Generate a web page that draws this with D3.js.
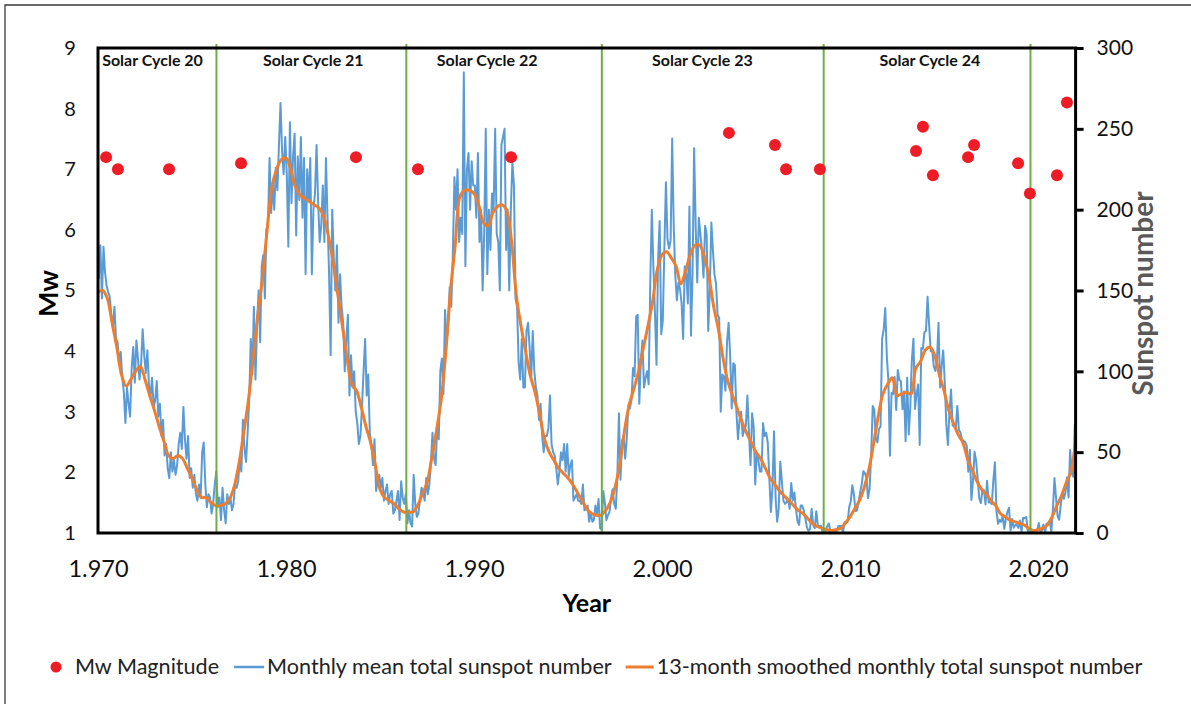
<!DOCTYPE html>
<html>
<head>
<meta charset="utf-8">
<script src="https://cdn.jsdelivr.net/npm/d3@7"></script>
<style>
  html, body { margin: 0; padding: 0; background: #fff; }
  svg { display: block; font-family: Lato, "Open Sans", sans-serif; }
</style>
</head>
<body>
<svg id="chart" width="1191" height="704"></svg>
<script>
// ---------------- data ----------------
// Monthly mean total sunspot number, January 1970 .. December 2021 (12 values per year)
const monthlyStartYear = 1970;
const monthlySN = [
  157, 178, 145, 177, 161, 153, 149, 146, 135, 127, 140, 120,   // 1970
  118, 105, 112, 96, 87, 68, 90, 80, 72, 102, 115, 93,           // 1971
  119, 108, 95, 104, 126, 110, 99, 113, 92, 84, 96, 78,          // 1972
  82, 94, 72, 80, 60, 70, 48, 55, 40, 34, 50, 38,                // 1973
  45, 36, 42, 55, 62, 52, 78, 58, 46, 60, 34, 40,                // 1974
  28, 36, 24, 20, 30, 22, 50, 56, 30, 16, 24, 22,                // 1975
  12, 18, 30, 38, 16, 22, 8, 28, 14, 6, 24, 18,                  // 1976
  22, 14, 18, 30, 28, 32, 46, 38, 70, 52, 44, 62,                // 1977
  82, 120, 98, 140, 95, 128, 150, 118, 165, 172, 145, 188,       // 1978
  190, 232, 198, 215, 200, 226, 212, 240, 266, 236, 222, 245,    // 1979
  222, 177, 254, 204, 233, 247, 184, 233, 206, 245, 195, 232,    // 1980
  160, 225, 205, 232, 160, 200, 210, 240, 205, 180, 190, 215,    // 1981
  180, 232, 195, 160, 110, 200, 170, 150, 178, 130, 160, 140,    // 1982
  130, 100, 120, 135, 85, 110, 90, 100, 75, 68, 55, 60,          // 1983
  78, 100, 120, 85, 98, 62, 55, 42, 58, 26, 32, 36,              // 1984
  28, 34, 20, 26, 30, 18, 24, 26, 12, 14, 20, 26,                // 1985
  8, 32, 22, 18, 24, 6, 14, 6, 4, 36, 18, 10,                    // 1986
  12, 20, 28, 26, 20, 34, 24, 30, 44, 62, 46, 42,                // 1987
  66, 58, 100, 108, 86, 138, 118, 128, 152, 140, 172, 220,       // 1988
  200, 225, 180, 195, 185, 285, 165, 225, 235, 200, 230, 215,    // 1989
  215, 195, 235, 180, 200, 150, 185, 250, 160, 200, 175, 210,    // 1990
  200, 250, 185, 180, 150, 240, 245, 250, 175, 200, 150, 200,    // 1991
  229, 215, 145, 140, 105, 95, 120, 90, 90, 125, 130, 115,       // 1992
  95, 125, 100, 90, 85, 70, 80, 60, 50, 60, 60, 65,              // 1993
  85, 55, 50, 48, 40, 30, 38, 50, 45, 55, 38, 55,                // 1994
  35, 42, 45, 20, 22, 24, 20, 20, 18, 30, 14, 15,                // 1995
  17, 7, 13, 7, 8, 17, 12, 21, 3, 2, 26, 19,                     // 1996
  8, 11, 13, 22, 27, 18, 15, 35, 74, 33, 57, 60,                 // 1997
  46, 58, 79, 77, 82, 102, 97, 134, 135, 80, 107, 119,           // 1998
  90, 96, 100, 92, 154, 200, 165, 136, 104, 169, 193, 123,       // 1999
  131, 175, 217, 182, 176, 181, 244, 189, 159, 144, 155, 151,    // 2000
  142, 120, 165, 160, 142, 202, 122, 160, 238, 190, 155, 195,    // 2001
  185, 175, 158, 190, 185, 125, 150, 192, 175, 160, 154, 135,    // 2002
  133, 75, 98, 97, 88, 118, 130, 110, 77, 105, 104, 75,          // 2003
  58, 70, 75, 60, 64, 66, 85, 62, 42, 74, 66, 30,                // 2004
  50, 45, 38, 38, 68, 60, 62, 56, 34, 13, 28, 63,                // 2005
  22, 7, 15, 44, 32, 20, 18, 19, 21, 15, 31, 20,                 // 2006
  25, 15, 7, 5, 17, 17, 14, 9, 3.5, 1.3, 2.5, 15,                // 2007
  5, 3, 13.5, 4.2, 4.2, 4.5, 0.7, 0.7, 1.6, 4.2, 5.9, 1.2,       // 2008
  1.3, 1.8, 0.8, 1.0, 4.2, 4.3, 4.3, 0.2, 6.7, 6.7, 6.9, 16.0,   // 2009
  19.6, 29.6, 23.8, 13.6, 13.9, 19.3, 25.3, 30.2, 38.2, 37.0, 34.1, 21.6,      // 2010
  27.3, 48.3, 78.6, 76.1, 58.2, 56.1, 64.5, 65.8, 120.1, 125.7, 139.1, 109.3,  // 2011
  94.4, 47.8, 86.6, 85.9, 96.5, 76.1, 100.8, 94.7, 93.8, 76.5, 87.6, 56.8,     // 2012
  96.1, 60.9, 78.3, 107.3, 120.2, 76.7, 86.2, 91.8, 54.5, 114.4, 113.9, 124.2, // 2013
  125.0, 146.1, 128.7, 112.5, 112.5, 102.9, 100.2, 106.9, 130.0, 90.0, 103.6, 112.9, // 2014
  93.0, 66.7, 54.5, 75.3, 88.8, 66.5, 65.8, 64.4, 78.6, 63.6, 62.2, 58.0,      // 2015
  57.0, 56.4, 54.1, 37.9, 51.5, 20.5, 32.4, 50.2, 44.6, 33.4, 21.4, 18.5,      // 2016
  26.1, 26.4, 17.7, 32.3, 18.9, 19.2, 17.8, 32.6, 43.7, 13.2, 5.7, 8.2,        // 2017
  6.8, 10.7, 2.5, 8.9, 13.1, 15.6, 1.6, 8.7, 3.3, 4.9, 4.9, 3.1,               // 2018
  7.7, 0.8, 9.4, 9.1, 9.9, 1.2, 0.9, 0.5, 1.1, 0.4, 0.5, 1.5,                  // 2019
  6.2, 0.2, 1.5, 5.2, 0.2, 5.8, 6.1, 7.5, 0.6, 14.4, 34.0, 21.8,               // 2020
  10.4, 8.2, 17.2, 24.5, 21.2, 25.0, 34.3, 22.0, 51.3, 37.4, 34.8, 67.5        // 2021
];

// 13-month smoothed sunspot number, sampled every quarter year from 1970.0 to 2022.0
const smoothedStartYear = 1970;
const smoothedStep = 0.25;
const smoothedSN = [
  149, 150, 145, 130,   // 1970
  115, 98, 91, 95,      // 1971
  100, 103, 95, 85,     // 1972
  76, 66, 57, 48,       // 1973
  46, 48, 46, 40,       // 1974
  34, 27, 22, 22,       // 1975
  19, 17, 17, 18,       // 1976
  21, 29, 43, 62,       // 1977
  82, 108, 135, 158,    // 1978
  188, 214, 225, 231,   // 1979
  232, 225, 214, 209,   // 1980
  207, 205, 203, 201,   // 1981
  196, 184, 168, 148,   // 1982
  128, 108, 92, 88,     // 1983
  78, 66, 56, 42,       // 1984
  27, 22, 20, 18,       // 1985
  15, 13, 13, 13,       // 1986
  17, 24, 31, 46,       // 1987
  63, 82, 112, 150,     // 1988
  178, 208, 212, 212,   // 1989
  210, 203, 192, 190,   // 1990
  198, 202, 203, 199,   // 1991
  180, 147, 128, 112,   // 1992
  97, 87, 73, 58,       // 1993
  50, 45, 40, 37,       // 1994
  34, 30, 25, 20,       // 1995
  15, 12, 11, 11,       // 1996
  14, 19, 28, 42,       // 1997
  63, 79, 89, 100,      // 1998
  114, 128, 143, 163,   // 1999
  172, 174, 170, 165,   // 2000
  154, 162, 172, 178,   // 2001
  178, 171, 158, 140,   // 2002
  126, 108, 94, 85,     // 2003
  77, 69, 62, 56,       // 2004
  50, 46, 40, 34,       // 2005
  30, 26, 23, 20,       // 2006
  17, 14, 12, 9,        // 2007
  6, 4, 3, 2,           // 2008
  1.5, 2, 3, 6,         // 2009
  10, 15, 20, 28,       // 2010
  39, 55, 72, 86,       // 2011
  92, 96, 85, 86,       // 2012
  87, 86, 102, 106,     // 2013
  113, 115, 110, 98,    // 2014
  88, 76, 68, 61,       // 2015
  56, 46, 39, 32,       // 2016
  27, 24, 20, 17,       // 2017
  12, 10, 8, 7,         // 2018
  6, 5, 3, 1.5,         // 2019
  2, 3, 5, 10,          // 2020
  17, 23, 31, 38,       // 2021
  57                    // 2022
];

// Earthquakes: decimal year and moment magnitude
const quakeYears = [1970.43, 1971.06, 1973.78, 1977.61, 1983.72, 1987.02, 1991.97,
                    2003.56, 2006.01, 2006.60, 2008.40, 2013.51, 2013.88, 2014.41,
                    2016.28, 2016.60, 2018.94, 2019.57, 2021.01, 2021.54];
const quakeMw    = [7.2, 7.0, 7.0, 7.1, 7.2, 7.0, 7.2,
                    7.6, 7.4, 7.0, 7.0, 7.3, 7.7, 6.9,
                    7.2, 7.4, 7.1, 6.6, 6.9, 8.1];

// Solar cycle boundaries and labels
const cycleBoundaries = [1976.3, 1986.4, 1996.8, 2008.6, 2019.6];
const cycleNames      = ["Solar Cycle 20", "Solar Cycle 21", "Solar Cycle 22", "Solar Cycle 23", "Solar Cycle 24"];
const cycleLabelYears = [1972.9, 1981.45, 1990.7, 2002.15, 2014.25];

// Axis ticks
const yearTicks = [1970, 1980, 1990, 2000, 2010, 2020];
const mwTicks   = [1, 2, 3, 4, 5, 6, 7, 8, 9];
const snTicks   = [0, 50, 100, 150, 200, 250, 300];

// Legend
const legendLabels = ["Mw Magnitude", "Monthly mean total sunspot number", "13-month smoothed monthly total sunspot number"];

// ---------------- styles ----------------
const COL_BLUE = "#5b9bd5", COL_ORANGE = "#ed7d31", COL_GREEN = "#70ad47", COL_RED = "#ee1c25";

const svg = d3.select("#chart");
const plot = { left: 98, right: 1075.6, top: 48, bottom: 533 };

const x   = d3.scaleLinear().domain([1970, 2022]).range([plot.left, plot.right]);
const yMw = d3.scaleLinear().domain([1, 9]).range([plot.bottom, plot.top]);
const ySN = d3.scaleLinear().domain([0, 300]).range([plot.bottom, plot.top]);

// outer figure border (top and left edges)
svg.append("path")
  .attr("d", "M5,704 L5,5 L1191,5")
  .attr("fill", "none").attr("stroke", "#3a3a3a").attr("stroke-width", 1.3);

// series
const monthly = monthlySN.map((v, i) => ({ t: monthlyStartYear + (i + 0.5) / 12, v }));
const smoothed = smoothedSN.map((v, i) => ({ t: smoothedStartYear + i * smoothedStep, v }));

svg.append("path")
  .datum(monthly)
  .attr("fill", "none")
  .attr("stroke", COL_BLUE)
  .attr("stroke-width", 2)
  .attr("stroke-linejoin", "round")
  .attr("d", d3.line().x(d => x(d.t)).y(d => ySN(d.v)));

svg.append("path")
  .datum(smoothed)
  .attr("fill", "none")
  .attr("stroke", COL_ORANGE)
  .attr("stroke-width", 3)
  .attr("stroke-linejoin", "round")
  .attr("d", d3.line().curve(d3.curveCatmullRom.alpha(0.5)).x(d => x(d.t)).y(d => ySN(d.v)));

// cycle boundaries
svg.append("g").selectAll("line")
  .data(cycleBoundaries)
  .join("line")
  .attr("x1", d => x(d)).attr("x2", d => x(d))
  .attr("y1", yMw(9) - 4).attr("y2", yMw(1))
  .attr("stroke", COL_GREEN).attr("stroke-width", 2);

// earthquakes
svg.append("g").selectAll("circle")
  .data(quakeYears.map((t, i) => ({ t, m: quakeMw[i] })))
  .join("circle")
  .attr("cx", d => x(d.t)).attr("cy", d => yMw(d.m))
  .attr("r", 6)
  .attr("fill", COL_RED);

// cycle labels
svg.append("g").selectAll("text")
  .data(cycleNames)
  .join("text")
  .attr("x", (d, i) => x(cycleLabelYears[i]))
  .attr("y", plot.top + 18)
  .attr("text-anchor", "middle")
  .attr("font-size", 16).attr("font-weight", 700).attr("fill", "#111")
  .text(d => d);

// plot frame
svg.append("rect")
  .attr("x", plot.left).attr("y", plot.top)
  .attr("width", plot.right - plot.left).attr("height", plot.bottom - plot.top)
  .attr("fill", "none").attr("stroke", "#000").attr("stroke-width", 3);

// axes
const thousandsLocale = d3.formatLocale({ decimal: ",", thousands: ".", grouping: [3], currency: ["", ""] });

const xAxis = svg.append("g")
  .attr("transform", `translate(0,${plot.bottom})`)
  .call(d3.axisBottom(x).tickValues(yearTicks).tickSize(0).tickPadding(27).tickFormat(thousandsLocale.format(",d")));
xAxis.select(".domain").remove();
xAxis.selectAll("text").attr("font-size", 23.5).attr("font-family", "Lato, sans-serif").attr("fill", "#111");

const yAxisL = svg.append("g")
  .attr("transform", `translate(${plot.left},0)`)
  .call(d3.axisLeft(yMw).tickValues(mwTicks).tickSize(0).tickFormat(d3.format("d")));
yAxisL.select(".domain").remove();
yAxisL.selectAll("text")
  .attr("x", -28).attr("text-anchor", "middle")
  .attr("font-size", 20).attr("font-family", "Lato, sans-serif").attr("fill", "#111");

const yAxisR = svg.append("g")
  .attr("transform", `translate(${plot.right},0)`)
  .call(d3.axisRight(ySN).tickValues(snTicks).tickSize(8).tickPadding(13).tickFormat(d3.format("d")));
yAxisR.select(".domain").remove();
yAxisR.selectAll(".tick line").attr("stroke", "#000").attr("stroke-width", 3);
yAxisR.selectAll("text").attr("font-size", 21).attr("font-family", "Lato, sans-serif").attr("fill", "#111");

// axis titles
svg.append("text")
  .attr("transform", `translate(58,${(plot.top + plot.bottom) / 2 + 3}) rotate(-90)`)
  .attr("text-anchor", "middle")
  .attr("font-size", 27).attr("font-weight", 700).attr("fill", "#000")
  .text("Mw");

svg.append("text")
  .attr("transform", `translate(1153,${(plot.top + plot.bottom) / 2 + 3}) rotate(-90)`)
  .attr("text-anchor", "middle")
  .attr("font-size", 28).attr("font-weight", 700).attr("fill", "#595959")
  .text("Sunspot number");

svg.append("text")
  .attr("x", x(1996)).attr("y", 612)
  .attr("text-anchor", "middle")
  .attr("font-size", 25).attr("font-weight", 700).attr("fill", "#000")
  .text("Year");

// legend
const legend = svg.append("g").attr("font-size", 21.6).attr("fill", "#222");
const legY = 667;
let cursor = 56;
legend.append("circle").attr("cx", cursor).attr("cy", legY).attr("r", 5.5).attr("fill", COL_RED);
cursor = 75;
const t1 = legend.append("text").attr("x", cursor).attr("y", legY + 7).text(legendLabels[0]);
cursor += t1.node().getComputedTextLength() + 15;
legend.append("line").attr("x1", cursor).attr("x2", cursor + 30).attr("y1", legY).attr("y2", legY)
  .attr("stroke", COL_BLUE).attr("stroke-width", 2.5);
cursor += 33;
const t2 = legend.append("text").attr("x", cursor).attr("y", legY + 7).text(legendLabels[1]);
cursor += t2.node().getComputedTextLength() + 14;
legend.append("line").attr("x1", cursor).attr("x2", cursor + 28).attr("y1", legY).attr("y2", legY)
  .attr("stroke", COL_ORANGE).attr("stroke-width", 3);
cursor += 31;
legend.append("text").attr("x", cursor).attr("y", legY + 7).text(legendLabels[2]);
</script>
</body>
</html>
